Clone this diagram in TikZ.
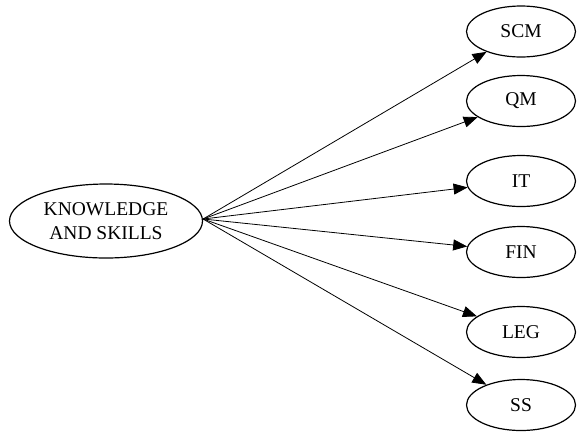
\documentclass[tikz,border=0pt]{standalone}
\usepackage{fontspec}
\setmainfont{Liberation Serif}
\usetikzlibrary{positioning,arrows.meta,shapes.geometric}

\begin{document}
\begin{tikzpicture}[
    x=1pt, y=-1pt,
    topic/.style={ellipse, draw, line width=1.2pt, inner sep=0pt, minimum width=109pt, minimum height=51pt, font=\fontsize{19.5}{24}\selectfont},
    root/.style={topic, minimum width=193pt, minimum height=74pt, align=center},
    arrow/.style={-{Triangle[length=14pt,width=11pt]}, line width=0.8pt}
]
\useasboundingbox (0,0) rectangle (577,432);

% Source node and target topics
\node[root] (ks) at (106,221) {KNOWLEDGE\\AND SKILLS};

\node[topic] (scm) at (521,31.5) {SCM};
\node[topic] (qm) at (521,101) {QM};
\node[topic] (it) at (521,181) {IT};
\node[topic] (fin) at (521,252) {FIN};
\node[topic] (leg) at (521,332) {LEG};
\node[topic] (ss) at (521,405) {SS};

% Arrows
\foreach \t in {scm,qm,it,fin,leg,ss}
    \draw[arrow] ([yshift=2pt]ks.east) -- (\t);

\end{tikzpicture}
\end{document}
